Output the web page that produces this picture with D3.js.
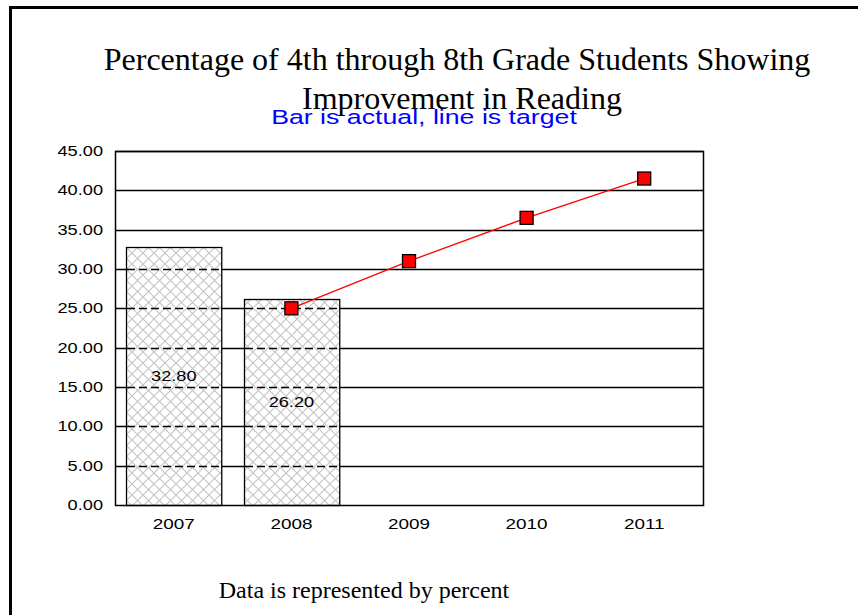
<html>
<head>
<title>Reading Improvement</title>
<style>
  body { margin: 0; background: #fff; }
</style>
</head>
<body>
<script src="https://d3js.org/d3.v7.min.js"></script>
<script>
var w = 858;
var h = 615;

var years = ["2007", "2008", "2009", "2010", "2011"];
var actual = [32.8, 26.2, null, null, null];
var target = [null, 25, 31, 36.5, 41.5];
var yTicks = [0, 5, 10, 15, 20, 25, 30, 35, 40, 45];

var svg = d3.select('body')
            .append('svg')
            .attr('width', w)
            .attr('height', h);

// frame, only top and left edge visible
svg.append('line').attr('x1', 10.5).attr('y1', 6).attr('x2', 10.5).attr('y2', h)
   .attr('stroke', '#000').attr('stroke-width', 3);
svg.append('line').attr('x1', 9).attr('y1', 7.5).attr('x2', w).attr('y2', 7.5)
   .attr('stroke', '#000').attr('stroke-width', 3);

// crosshatch pattern
var defs = svg.append('defs');
var pat = defs.append('pattern')
    .attr('id', 'hatch')
    .attr('patternUnits', 'userSpaceOnUse')
    .attr('width', 11).attr('height', 11);
pat.append('rect').attr('width', 11).attr('height', 11).attr('fill', '#fff');
pat.append('path').attr('d', 'M0,0 L11,11 M11,0 L0,11')
   .attr('stroke', '#c4c4c4').attr('stroke-width', 1.1);

var pl = 115, pr = 703, pt = 151, pb = 505;

var x = d3.scaleBand().domain(years).range([pl, pr]).paddingInner(0.19).paddingOuter(0.095);
var xc = d3.scaleBand().domain(years).range([pl, pr]);
var y = d3.scaleLinear().domain([0, 45]).range([pb, pt]);

// the chart text is stretched sideways in the original
function stretched(g, tx, ty, sx) {
    return g.append('text')
        .attr('transform', 'translate(' + tx + ',' + ty + ') scale(' + sx + ',1)')
        .style('font-family', 'Liberation Sans, Arial, sans-serif');
}

// grid lines
svg.selectAll('.grid')
   .data(yTicks.slice(1))
   .enter()
   .append('line')
   .attr('x1', pl).attr('x2', pr)
   .attr('y1', d => Math.round(y(d)) + 0.5)
   .attr('y2', d => Math.round(y(d)) + 0.5)
   .attr('stroke', '#000').attr('stroke-width', 1.3);

// bars
var barData = years.map((d, i) => ({year: d, v: actual[i]})).filter(d => d.v != null);
svg.selectAll('.bar')
   .data(barData)
   .enter()
   .append('rect')
   .attr('x', d => Math.round(x(d.year)) + 0.5)
   .attr('y', d => Math.round(y(d.v)) + 0.5)
   .attr('width', x.bandwidth())
   .attr('height', d => Math.round(pb - y(d.v)))
   .attr('fill', 'url(#hatch)')
   .attr('stroke', '#000').attr('stroke-width', 1.3);

// dashed grid inside bars
barData.forEach(function(b) {
    svg.selectAll(null)
       .data(yTicks.slice(1).filter(t => t < b.v))
       .enter()
       .append('line')
       .attr('x1', Math.round(x(b.year)) + 1)
       .attr('x2', Math.round(x(b.year)) + x.bandwidth())
       .attr('y1', d => Math.round(y(d)) + 0.5)
       .attr('y2', d => Math.round(y(d)) + 0.5)
       .attr('stroke', '#000').attr('stroke-width', 1.3)
       .attr('stroke-dasharray', '8,4');
});

// plot frame
svg.append('rect')
   .attr('x', pl + 0.5).attr('y', pt + 0.5)
   .attr('width', pr - pl).attr('height', pb - pt)
   .attr('fill', 'none').attr('stroke', '#000').attr('stroke-width', 1.5);

// bar labels
barData.forEach(function(d) {
    stretched(svg, x(d.year) + x.bandwidth() / 2, (y(d.v) + pb) / 2 + 5, 1.3)
       .attr('text-anchor', 'middle')
       .style('font-size', '14px')
       .text(d.v.toFixed(2));
});

// target line
var tData = years.map((d, i) => ({year: d, v: target[i]})).filter(d => d.v != null);
var line = d3.line()
    .x(d => xc(d.year) + xc.bandwidth() / 2)
    .y(d => y(d.v));
svg.append('path')
   .datum(tData)
   .attr('d', line)
   .attr('fill', 'none')
   .attr('stroke', '#ff0000').attr('stroke-width', 1.3);

svg.selectAll('.mark')
   .data(tData)
   .enter()
   .append('rect')
   .attr('x', d => xc(d.year) + xc.bandwidth() / 2 - 6.5)
   .attr('y', d => y(d.v) - 6.5)
   .attr('width', 13).attr('height', 13)
   .attr('fill', '#ff0000')
   .attr('stroke', '#000').attr('stroke-width', 1.3);

// axis labels
yTicks.forEach(function(d) {
    stretched(svg, 103, y(d) + 5, 1.3)
       .attr('text-anchor', 'end')
       .style('font-size', '14px')
       .text(d.toFixed(2));
});

years.forEach(function(d) {
    stretched(svg, xc(d) + xc.bandwidth() / 2, 529, 1.35)
       .attr('text-anchor', 'middle')
       .style('font-size', '14px')
       .text(d);
});

// titles
stretched(svg, 424, 124, 1.37)
   .attr('text-anchor', 'middle')
   .attr('fill', '#0000ff')
   .style('font-size', '19.5px')
   .text('Bar is actual, line is target');

var title = svg.append('text')
   .attr('text-anchor', 'middle')
   .style('font-family', 'Liberation Serif, Times New Roman, serif')
   .style('font-size', '32px');
title.append('tspan').attr('x', 457).attr('y', 70)
   .text('Percentage of 4th through 8th Grade Students Showing');
title.append('tspan').attr('x', 462).attr('y', 109)
   .text('Improvement in Reading');

svg.append('text')
   .attr('x', 364).attr('y', 598)
   .attr('text-anchor', 'middle')
   .style('font-family', 'Liberation Serif, Times New Roman, serif')
   .style('font-size', '24px')
   .text('Data is represented by percent');
</script>
</body>
</html>
